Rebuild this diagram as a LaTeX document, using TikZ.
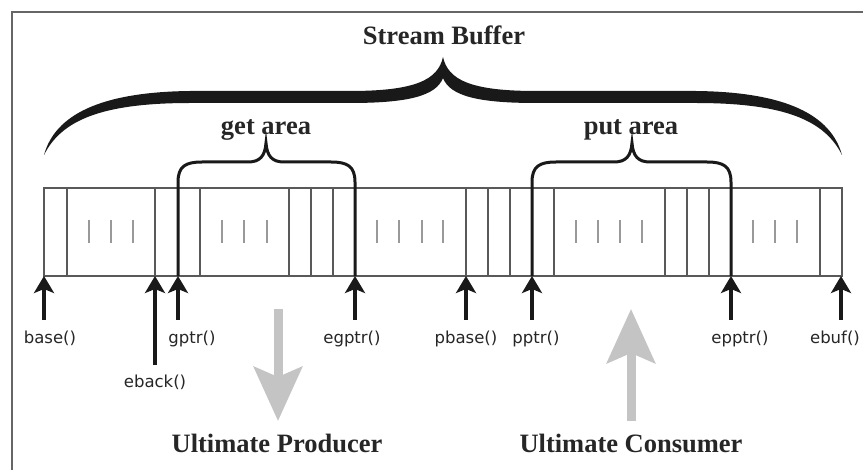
\documentclass[tikz,border=0pt]{standalone}
\usepackage{fontspec}
\setmainfont{Liberation Serif}
\newfontfamily\lblfont{DejaVu Sans}
\usetikzlibrary{arrows.meta}
\begin{document}
\begin{tikzpicture}[x=1pt,y=-1pt,
  title/.style={font=\fontsize{26.5}{30}\selectfont\bfseries, text=black!85, inner sep=0pt, anchor=base},
  lbl/.style={font=\lblfont\fontsize{16.5}{18}\selectfont, text=black!85, inner sep=0pt, anchor=base},
  cell/.style={draw=black!65, line width=1.3pt},
  tick/.style={draw=black!40, line width=2pt},
  ptr/.style={draw=black!90, line width=4.5pt, -{Stealth[length=17pt,width=20pt,inset=4pt]}},
  flow/.style={draw=black!23, line width=9pt, -{Stealth[length=54pt,width=48pt,inset=10pt]}},
  smallbrace/.style={draw=black!90, line width=3pt, line join=miter},
  frameline/.style={draw=black!60, line width=2pt}]
\useasboundingbox (0,0) rectangle (863,470);
\fill[white] (0,0) rectangle (863,470);
\draw[frameline] (863,12) -- (12,12) -- (12,470);

% buffer
\node[cell, minimum width=798pt, minimum height=88pt, inner sep=0pt] (buf) at (443,232) {};
\foreach \x in {67,155,200,289,311,333,466,488,510,554,665,687,709,820}
  \draw[cell] (\x,188) -- (\x,276);
\foreach \x in {89,111,133,222,244,267,377,399,422,443,576,598,620,642,753,775,797}
  \draw[tick] (\x,220) -- (\x,243);

% big brace
\fill[black!90] (44,155)
  .. controls (55,115) and (100,92) .. (190,91)
  -- (350,91)
  .. controls (415,91) and (438,80) .. (443,57)
  .. controls (448,80) and (471,91) .. (536,91)
  -- (696,91)
  .. controls (786,92) and (831,115) .. (842,155)
  .. controls (825,121) and (786,103) .. (696,103)
  -- (536,103)
  .. controls (478,103) and (450,96) .. (443,78)
  .. controls (436,96) and (408,103) .. (350,103)
  -- (190,103)
  .. controls (100,103) and (61,121) .. (44,155) -- cycle;

% small braces
\draw[smallbrace] (178,276) -- (178,182)
  .. controls (178,166) and (186,162) .. (202,162) -- (248,162)
  .. controls (260,162) and (265,156) .. (266,143)
  .. controls (267,156) and (272,162) .. (284,162) -- (331,162)
  .. controls (347,162) and (355,166) .. (355,182) -- (355,276);
\draw[smallbrace] (532,276) -- (532,182)
  .. controls (532,166) and (540,162) .. (556,162) -- (614,162)
  .. controls (626,162) and (631,156) .. (632,143)
  .. controls (633,156) and (638,162) .. (650,162) -- (707,162)
  .. controls (723,162) and (731,166) .. (731,182) -- (731,276);

% titles
\node[title] (sb) at (444,44.5) {Stream Buffer};
\node[title] (ga) at (266,135) {get area};
\node[title] (pa) at (631,135) {put area};
\node[title] (up) at (277,453) {Ultimate Producer};
\node[title] (uc) at (631,453) {Ultimate Consumer};

% pointer labels
\node[lbl] (base) at (50,344) {base()};
\node[lbl] (eback) at (155,388) {eback()};
\node[lbl] (gptr) at (192,344) {gptr()};
\node[lbl] (egptr) at (352,344) {egptr()};
\node[lbl] (pbase) at (466,344) {pbase()};
\node[lbl] (pptr) at (536,344) {pptr()};
\node[lbl] (epptr) at (740,344) {epptr()};
\node[lbl] (ebuf) at (835,344) {ebuf()};

% pointer arrows
\foreach \n/\x/\s in {base/44/320, eback/155/365, gptr/178/320, egptr/355/320,
                      pbase/466/320, pptr/532/320, epptr/731/320, ebuf/841/320}{
  \coordinate (\n-s) at (\x,\s);
  \coordinate (\n-t) at (\x,276);
  \draw[ptr] (\n-s) -- (\n-t);
}

% flow arrows
\coordinate (prod-s) at (278,309);
\coordinate (prod-t) at (278,421);
\draw[flow] (prod-s) -- (prod-t);
\coordinate (cons-s) at (631,421);
\coordinate (cons-t) at (631,309);
\draw[flow] (cons-s) -- (cons-t);
\end{tikzpicture}
\end{document}
